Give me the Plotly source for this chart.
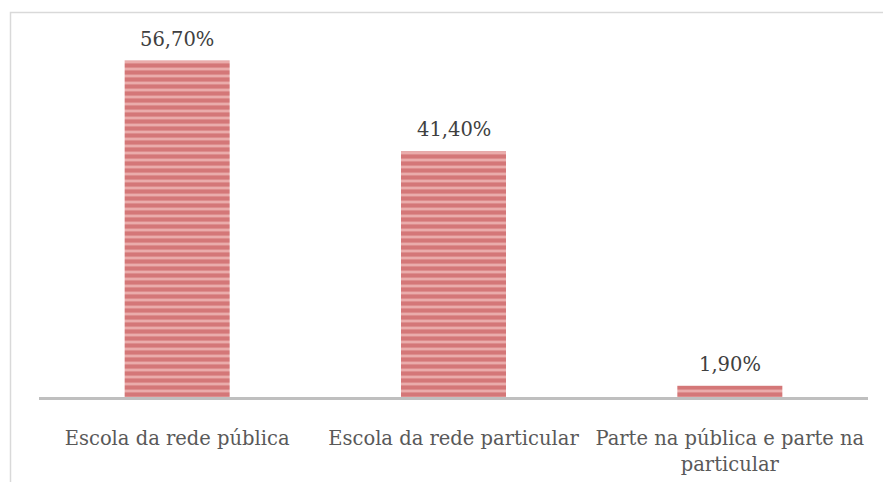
import plotly.graph_objects as go

categories = ["Escola da rede pública", "Escola da rede particular", "Parte na pública e parte na<br>particular"]
values = [56.7, 41.4, 1.9]
labels = ["56,70%", "41,40%", "1,90%"]

W, H = 883, 482
ml, mr, mt, mb = 39, 15, 41, 85
pw = W - ml - mr
ph = H - mt - mb

def px_x(px):
    return (px - ml) / pw

def px_y(py):
    return (H - mb - py) / ph

fig = go.Figure(go.Bar(
    x=categories, y=values,
    width=0.38,
    marker=dict(
        color="#bd4245",
        line=dict(width=0),
        pattern=dict(shape="-", bgcolor="#eaacab", fgcolor="#bd4245", size=7, solidity=0.6),
    ),
    hoverinfo="skip",
))

for c, v, t in zip(categories, values, labels):
    fig.add_annotation(x=c, y=v, text=t, showarrow=False, yanchor="bottom",
                       yshift=8, font=dict(family="DejaVu Serif", size=19.5, color="#404040"))

fig.update_layout(
    width=W, height=H,
    margin=dict(l=ml, r=mr, t=mt, b=mb, autoexpand=False),
    plot_bgcolor="white", paper_bgcolor="white",
    showlegend=False,
    font=dict(family="DejaVu Serif", size=19.5, color="#595959"),
    xaxis=dict(showline=True, linecolor="#bfbfbf", linewidth=2.5, ticks="",
               ticklabelstandoff=22, automargin=False,
               tickfont=dict(family="DejaVu Serif", size=19.5, color="#595959"),
               showgrid=False),
    yaxis=dict(range=[0, 60], visible=False, showgrid=False),
    shapes=[dict(type="rect", xref="paper", yref="paper",
                 x0=px_x(10.5), x1=px_x(900), y0=px_y(500), y1=px_y(12.5),
                 line=dict(color="#d9d9d9", width=1.5), fillcolor="rgba(0,0,0,0)", layer="below")],
)

fig.write_html("out.html", config={"displayModeBar": False},
               post_script="document.body.style.margin='0';document.body.style.padding='0';")
